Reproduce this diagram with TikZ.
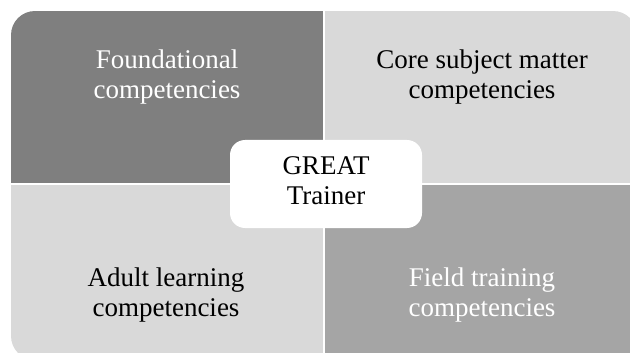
\documentclass[tikz,border=0pt]{standalone}
\usepackage{fontspec}
\setmainfont{Liberation Serif}
\usepackage{tikz}

\definecolor{darkq}{HTML}{7F7F7F}
\definecolor{lightq}{HTML}{D9D9D9}
\definecolor{midq}{HTML}{A5A5A5}

\tikzset{
  lbl/.style={align=center,inner sep=0pt,font=\fontsize{27}{29.5}\selectfont},
  hub/.style={fill=white,rounded corners=15pt,minimum width=192pt,minimum height=88pt,inner sep=0pt},
}

\begin{document}
\begin{tikzpicture}[x=1pt,y=-1pt]
\useasboundingbox (0,0) rectangle (630,353);
\clip (0,0) rectangle (630,353);

\begin{scope}
\clip[rounded corners=24pt] (11,11) rectangle (637,360);
\fill[darkq]  (11,11)   rectangle (323,183);% foundational
\fill[lightq] (325,11)  rectangle (640,183);% core subject
\fill[lightq] (11,185)  rectangle (323,360);% adult learning
\fill[midq]   (325,185) rectangle (640,360);% field training
\end{scope}

\node[lbl,text=white] (found) at (167,77)  {Foundational\\competencies};
\node[lbl]            (core)  at (482,77)  {Core subject matter\\competencies};
\node[lbl]            (adult) at (166,295) {Adult learning\\competencies};
\node[lbl,text=white] (field) at (482,295) {Field training\\competencies};

\node[hub] (hub)   at (326,184)   {};
\node[lbl] (great) at (326,180.5) {GREAT\\Trainer};

\end{tikzpicture}
\end{document}
